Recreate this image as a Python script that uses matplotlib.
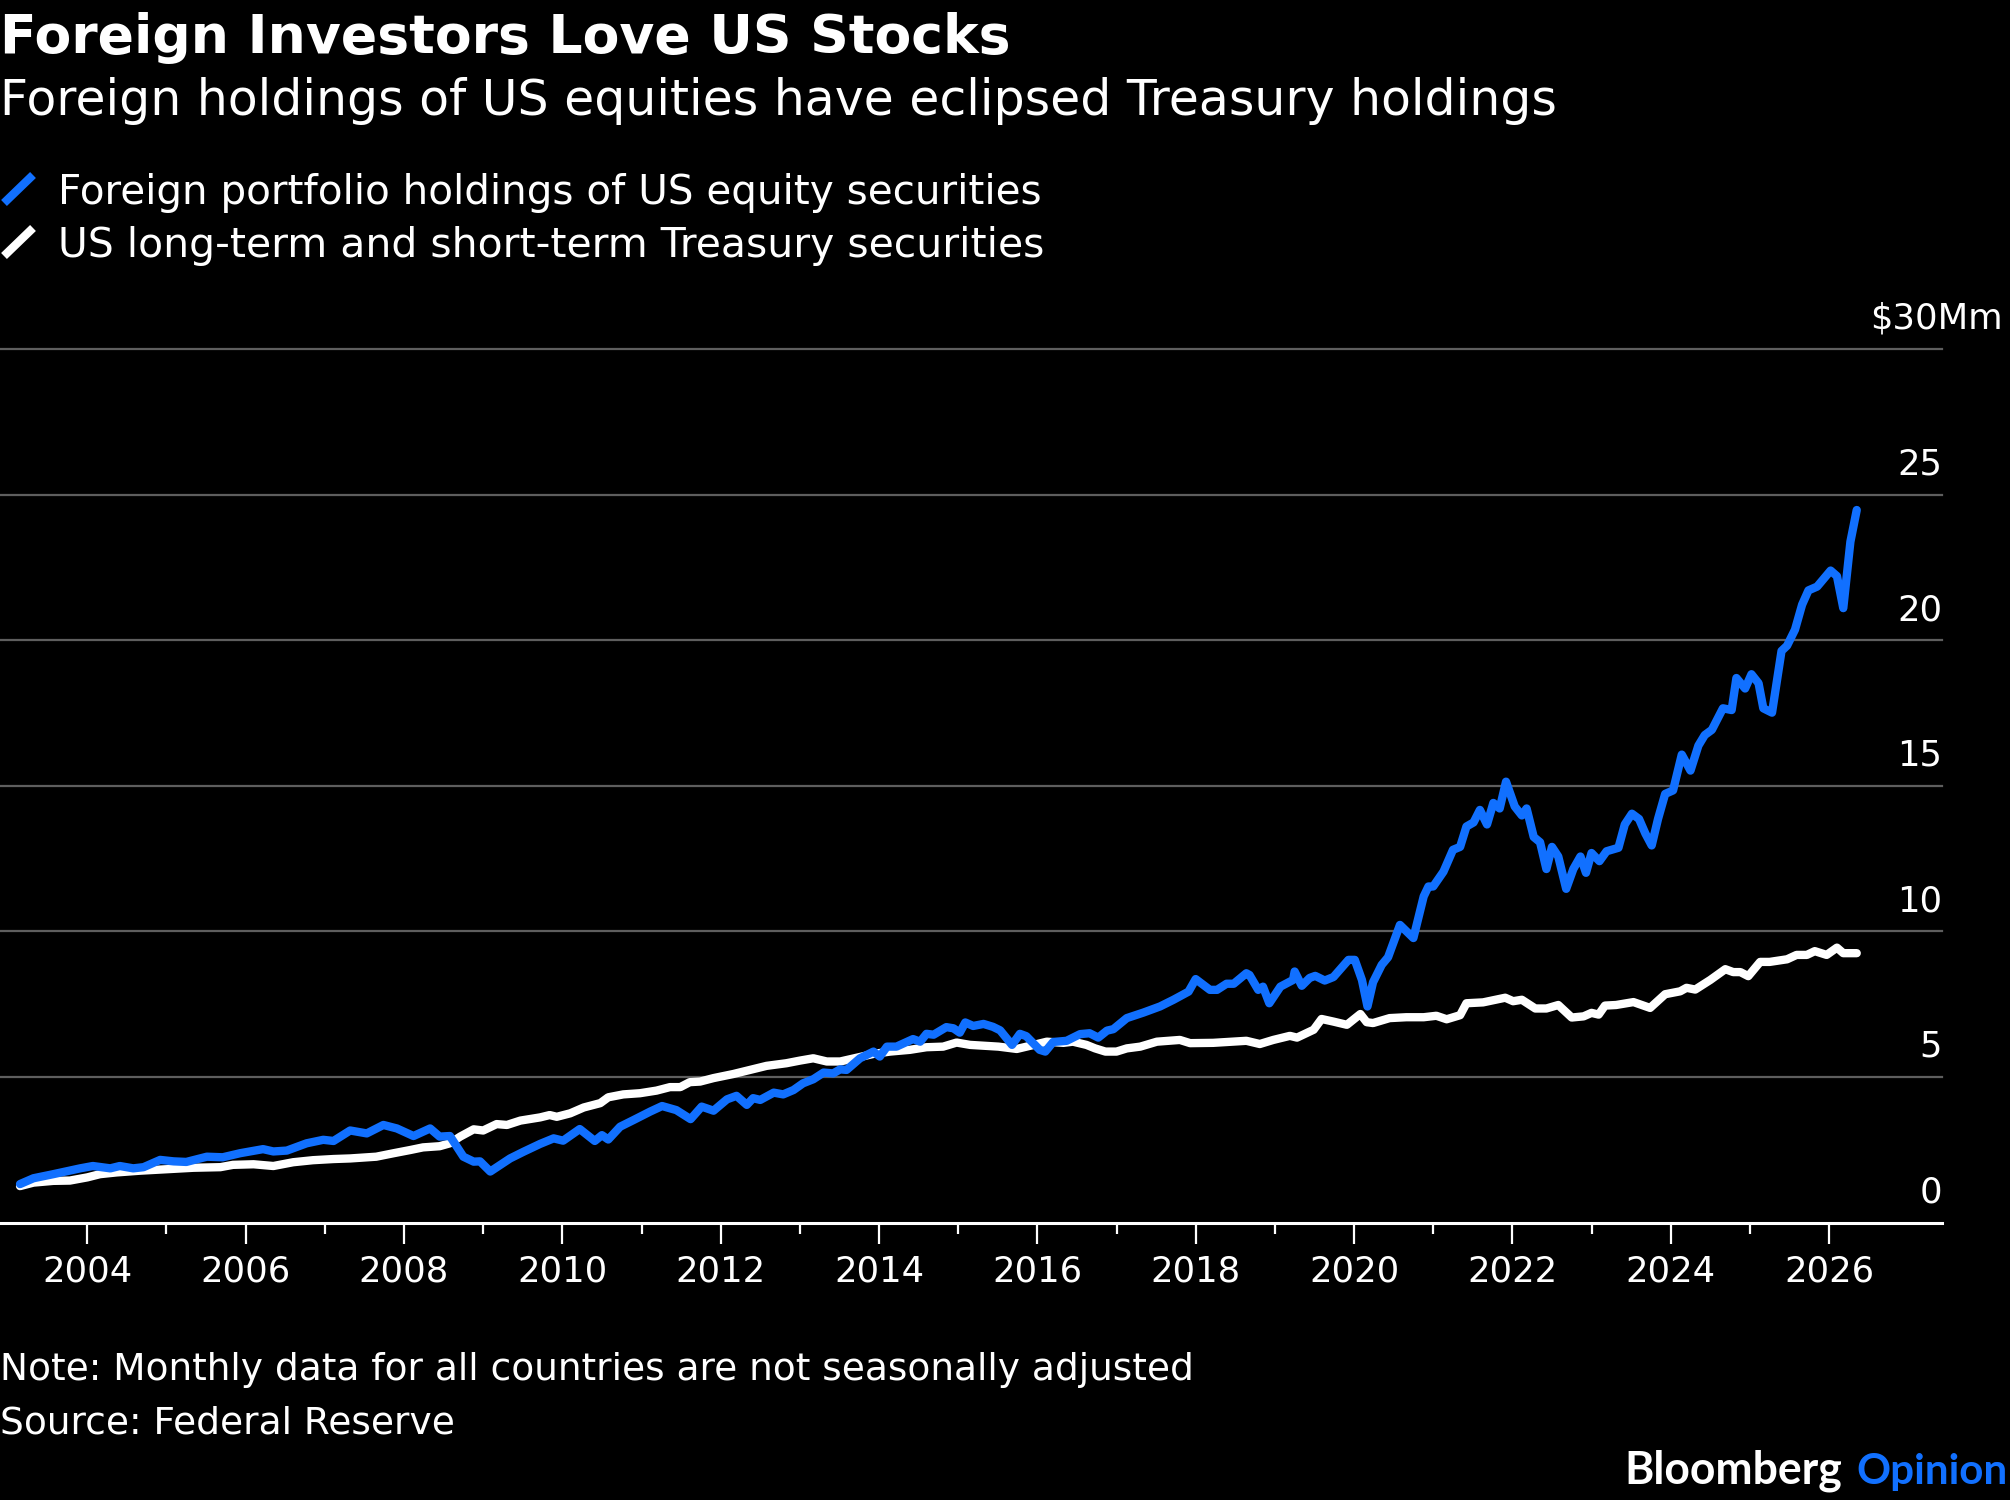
import matplotlib
matplotlib.use("Agg")
import matplotlib.pyplot as plt
from matplotlib.lines import Line2D
from matplotlib import transforms

# ---------------- data (decimal years, $ trillions) ----------------
equity_dates = [
    2003.15, 2003.32, 2003.57, 2003.91, 2004.07, 2004.29, 2004.41, 2004.58, 2004.71, 2004.92,
    2005.09, 2005.25, 2005.51, 2005.71, 2005.93, 2006.22, 2006.35, 2006.52, 2006.77, 2006.98,
    2007.11, 2007.32, 2007.53, 2007.74, 2007.91, 2008.12, 2008.33, 2008.45, 2008.58, 2008.75,
    2008.88, 2008.96, 2009.09, 2009.34, 2009.51, 2009.72, 2009.89, 2010.01, 2010.22, 2010.41,
    2010.50, 2010.58, 2010.73, 2010.90, 2011.11, 2011.26, 2011.44, 2011.62, 2011.76, 2011.91,
    2012.08, 2012.20, 2012.33, 2012.41, 2012.50, 2012.67, 2012.79, 2012.92, 2013.04, 2013.17,
    2013.30, 2013.42, 2013.51, 2013.59, 2013.76, 2013.93, 2014.01, 2014.10, 2014.22, 2014.43,
    2014.52, 2014.60, 2014.69, 2014.85, 2014.94, 2015.02, 2015.09, 2015.19, 2015.32, 2015.44,
    2015.53, 2015.68, 2015.78, 2015.86, 2016.03, 2016.10, 2016.20, 2016.37, 2016.54, 2016.66,
    2016.77, 2016.88, 2016.96, 2017.13, 2017.34, 2017.55, 2017.72, 2017.91, 2018.00, 2018.18,
    2018.27, 2018.39, 2018.48, 2018.64, 2018.68, 2018.79, 2018.85, 2018.93, 2019.07, 2019.23,
    2019.25, 2019.34, 2019.44, 2019.51, 2019.63, 2019.74, 2019.93, 2020.01, 2020.10, 2020.17,
    2020.24, 2020.35, 2020.43, 2020.58, 2020.75, 2020.88, 2020.94, 2021.00, 2021.13, 2021.25,
    2021.34, 2021.42, 2021.51, 2021.59, 2021.68, 2021.76, 2021.84, 2021.92, 2022.03, 2022.12,
    2022.18, 2022.27, 2022.35, 2022.43, 2022.50, 2022.58, 2022.68, 2022.77, 2022.86, 2022.93,
    2023.00, 2023.10, 2023.19, 2023.34, 2023.42, 2023.51, 2023.60, 2023.68, 2023.76, 2023.84,
    2023.93, 2024.03, 2024.14, 2024.25, 2024.35, 2024.43, 2024.52, 2024.66, 2024.77, 2024.83,
    2024.94, 2025.02, 2025.11, 2025.17, 2025.28, 2025.40, 2025.47, 2025.57, 2025.66, 2025.74,
    2025.85, 2026.02, 2026.10, 2026.18, 2026.27, 2026.35,
]
equity_values = [
    1.32, 1.52, 1.66, 1.86, 1.94, 1.86, 1.94, 1.86, 1.90, 2.15,
    2.10, 2.08, 2.26, 2.24, 2.38, 2.52, 2.44, 2.47, 2.72, 2.84,
    2.80, 3.16, 3.06, 3.35, 3.23, 2.97, 3.23, 2.95, 2.97, 2.26,
    2.09, 2.10, 1.75, 2.20, 2.43, 2.70, 2.89, 2.81, 3.21, 2.80,
    3.00, 2.85, 3.29, 3.52, 3.81, 4.00, 3.86, 3.55, 3.98, 3.84,
    4.23, 4.35, 4.04, 4.27, 4.21, 4.46, 4.40, 4.55, 4.78, 4.92,
    5.15, 5.12, 5.26, 5.24, 5.64, 5.87, 5.70, 6.04, 6.04, 6.30,
    6.21, 6.48, 6.45, 6.71, 6.67, 6.52, 6.87, 6.75, 6.82, 6.72,
    6.60, 6.10, 6.48, 6.40, 5.93, 5.87, 6.20, 6.24, 6.47, 6.50,
    6.35, 6.59, 6.64, 7.02, 7.21, 7.42, 7.65, 7.93, 8.36, 7.99,
    7.99, 8.20, 8.20, 8.56, 8.50, 7.99, 8.10, 7.53, 8.10, 8.33,
    8.62, 8.13, 8.40, 8.47, 8.31, 8.43, 9.02, 9.02, 8.33, 7.42,
    8.25, 8.85, 9.11, 10.22, 9.77, 11.20, 11.54, 11.54, 12.05, 12.80,
    12.90, 13.60, 13.74, 14.17, 13.67, 14.41, 14.22, 15.14, 14.29, 13.98,
    14.22, 13.24, 13.06, 12.14, 12.90, 12.57, 11.46, 12.14, 12.57, 12.01,
    12.69, 12.41, 12.75, 12.87, 13.67, 14.04, 13.86, 13.36, 12.95, 13.86,
    14.72, 14.84, 16.07, 15.52, 16.38, 16.74, 16.92, 17.66, 17.60, 18.70,
    18.34, 18.83, 18.52, 17.66, 17.51, 19.63, 19.81, 20.36, 21.22, 21.71,
    21.84, 22.39, 22.20, 21.10, 23.38, 24.47,
]

treasury_dates = [
    2003.15, 2003.32, 2003.57, 2003.78, 2004.00, 2004.16, 2004.37, 2004.67, 2005.00, 2005.34,
    2005.68, 2005.84, 2006.10, 2006.35, 2006.60, 2006.85, 2007.11, 2007.32, 2007.65, 2007.87,
    2008.08, 2008.24, 2008.45, 2008.58, 2008.71, 2008.88, 2009.00, 2009.17, 2009.30, 2009.47,
    2009.72, 2009.84, 2009.93, 2010.10, 2010.27, 2010.48, 2010.58, 2010.77, 2010.98, 2011.19,
    2011.36, 2011.49, 2011.61, 2011.74, 2011.91, 2012.16, 2012.37, 2012.58, 2012.83, 2013.00,
    2013.17, 2013.34, 2013.51, 2013.72, 2013.93, 2014.14, 2014.39, 2014.60, 2014.81, 2014.98,
    2015.15, 2015.32, 2015.51, 2015.74, 2015.91, 2016.12, 2016.33, 2016.45, 2016.62, 2016.73,
    2016.86, 2017.00, 2017.13, 2017.30, 2017.51, 2017.80, 2017.93, 2018.22, 2018.47, 2018.64,
    2018.81, 2018.98, 2019.19, 2019.28, 2019.49, 2019.59, 2019.74, 2019.91, 2020.08, 2020.16,
    2020.24, 2020.45, 2020.66, 2020.88, 2021.04, 2021.17, 2021.34, 2021.42, 2021.63, 2021.91,
    2022.01, 2022.12, 2022.29, 2022.43, 2022.58, 2022.75, 2022.90, 2023.00, 2023.09, 2023.17,
    2023.31, 2023.53, 2023.74, 2023.93, 2024.12, 2024.20, 2024.31, 2024.50, 2024.69, 2024.79,
    2024.88, 2024.98, 2025.13, 2025.25, 2025.47, 2025.59, 2025.72, 2025.82, 2025.97, 2026.10,
    2026.18, 2026.35,
]
treasury_values = [
    1.25, 1.37, 1.43, 1.44, 1.55, 1.66, 1.72, 1.78, 1.83, 1.88,
    1.90, 1.98, 2.00, 1.94, 2.07, 2.14, 2.18, 2.20, 2.26, 2.38,
    2.49, 2.58, 2.62, 2.72, 2.95, 3.20, 3.16, 3.38, 3.35, 3.50,
    3.61, 3.69, 3.63, 3.75, 3.95, 4.10, 4.30, 4.40, 4.44, 4.53,
    4.65, 4.65, 4.82, 4.84, 4.96, 5.10, 5.24, 5.38, 5.47, 5.56,
    5.64, 5.53, 5.53, 5.66, 5.79, 5.87, 5.93, 6.02, 6.04, 6.18,
    6.10, 6.07, 6.04, 5.96, 6.07, 6.21, 6.17, 6.21, 6.10, 5.98,
    5.87, 5.87, 5.98, 6.04, 6.21, 6.27, 6.16, 6.17, 6.21, 6.24,
    6.13, 6.27, 6.41, 6.35, 6.62, 6.99, 6.90, 6.79, 7.16, 6.88,
    6.85, 7.02, 7.05, 7.05, 7.10, 6.98, 7.12, 7.53, 7.56, 7.72,
    7.60, 7.65, 7.35, 7.35, 7.47, 7.04, 7.08, 7.20, 7.14, 7.45,
    7.47, 7.57, 7.37, 7.84, 7.94, 8.06, 8.00, 8.33, 8.70, 8.60,
    8.60, 8.46, 8.95, 8.95, 9.04, 9.19, 9.19, 9.32, 9.19, 9.44,
    9.25, 9.25,
]

series_names = ["Foreign portfolio holdings of US equity securities",
                "US long-term and short-term Treasury securities"]
ytick_values = [0, 5, 10, 15, 20, 25, 30]
ytick_labels = ["0", "5", "10", "15", "20", "25", "$30Mm"]
xtick_major = list(range(2004, 2027, 2))
xtick_minor = list(range(2005, 2026, 2))
xtick_labels = [str(y) for y in xtick_major]

title = "Foreign Investors Love US Stocks"
subtitle = "Foreign holdings of US equities have eclipsed Treasury holdings"
note = "Note: Monthly data for all countries are not seasonally adjusted"
source = "Source: Federal Reserve"

# ---------------- style ----------------
BLUE = "#1170ff"
WHITE = "#ffffff"
GRID = "#5e5e5e"
W, H = 2010, 1500

plt.rcParams["font.family"] = ["DejaVu Sans"]
fig = plt.figure(figsize=(W / 100, H / 100), dpi=100, facecolor="black")


def fy(py):
    return 1 - py / H


def fx(px):
    return px / W


ax = fig.add_axes([0, fy(1222.5), fx(1942), fy(349) - fy(1222.5)])
ax.set_facecolor("black")
ax.set_xlim(2002.897, 2027.427)
ax.set_ylim(0, 30)

for s in ["left", "right", "top"]:
    ax.spines[s].set_visible(False)
ax.spines["bottom"].set_color(WHITE)
ax.spines["bottom"].set_linewidth(2.2)
ax.spines["bottom"].set_zorder(5)

# gridlines
for v in ytick_values[1:]:
    ax.axhline(v, color=GRID, lw=1.6, zorder=1, clip_on=False)
ax.set_yticks([])

# y labels on right, above gridlines
for v, lab in zip(ytick_values, ytick_labels):
    dx = 0.61 if lab.startswith("$") else 0.0
    tr = transforms.offset_copy(ax.get_yaxis_transform(), fig=fig, x=dx, y=0.20, units="inches")
    ax.text(1.0, v, lab, transform=tr, ha="right", va="baseline",
            color=WHITE, fontsize=25.5)

# x ticks
ax.set_xticks(xtick_major)
ax.set_xticklabels(xtick_labels)
ax.set_xticks(xtick_minor, minor=True)
ax.tick_params(axis="x", which="major", length=15, width=1.6, color=WHITE,
               labelcolor=WHITE, labelsize=25.5, pad=8)
ax.tick_params(axis="x", which="minor", length=8, width=1.6, color=WHITE)

# series
ax.plot(treasury_dates, treasury_values, color=WHITE, lw=6.0,
        solid_joinstyle="round", solid_capstyle="round", zorder=3)
ax.plot(equity_dates, equity_values, color=BLUE, lw=6.0,
        solid_joinstyle="round", solid_capstyle="round", zorder=4)

# ---------------- header / footer text ----------------
texts_to_fit = []

t = fig.text(fx(0), fy(53), title, color=WHITE, fontsize=38, fontweight="bold",
             ha="left", va="baseline")
texts_to_fit.append((t, 1009))
t = fig.text(fx(0), fy(115), subtitle, color=WHITE, fontsize=35,
             ha="left", va="baseline")
texts_to_fit.append((t, 1555))

legend_colors = [BLUE, WHITE]
legend_baselines = [204, 257]
for name, col, base in zip(series_names, legend_colors, legend_baselines):
    fig.add_artist(Line2D([fx(4), fx(33)], [fy(base - 1), fy(base - 29)],
                          color=col, lw=6, solid_capstyle="butt"))
    t = fig.text(fx(58), fy(base), name, color=WHITE, fontsize=29,
                 ha="left", va="baseline")
    texts_to_fit.append((t, 983))

t = fig.text(fx(0), fy(1380), note, color=WHITE, fontsize=27, ha="left", va="baseline")
texts_to_fit.append((t, 1195))
t = fig.text(fx(0), fy(1433), source, color=WHITE, fontsize=27, ha="left", va="baseline")
texts_to_fit.append((t, 455))

brand_font = ["Lato", "DejaVu Sans"]
op = fig.text(fx(2008), fy(1484), "Opinion", color=BLUE, fontsize=26,
              fontweight="bold", family=brand_font, ha="right", va="baseline")
bl = fig.text(fx(1842), fy(1484), "Bloomberg", color=WHITE, fontsize=26,
              fontweight="bold", family=brand_font, ha="right", va="baseline")
texts_to_fit.append((op, 152))
texts_to_fit.append((bl, 218))

fig.canvas.draw()
renderer = fig.canvas.get_renderer()
for txt, target in texts_to_fit:
    w = txt.get_window_extent(renderer=renderer).width
    if w > 0:
        txt.set_fontsize(txt.get_fontsize() * target / w)

fig.savefig("out.png", dpi=100, facecolor="black")
